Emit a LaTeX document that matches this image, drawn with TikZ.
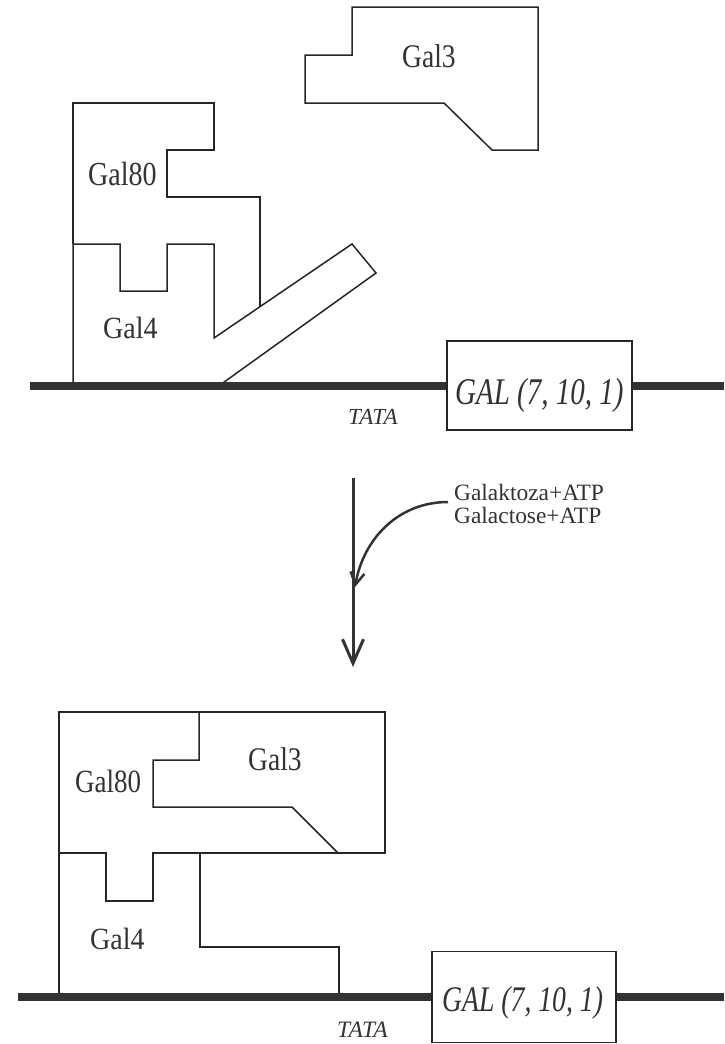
\documentclass[tikz,border=0pt]{standalone}
\usepackage{graphicx}
\usepackage{fontspec}
\setmainfont{Liberation Serif}
\usetikzlibrary{arrows.meta}
\begin{document}
\begin{tikzpicture}[x=1pt,y=-1pt,
  prot/.style={line width=1.5pt, line join=miter, draw=black!85},
  dna/.style={line width=8pt, draw=black!80},
  lbl/.style={inner sep=0pt, anchor=base west, text=black!80},
  genebox/.style={draw=black!85, line width=1.5pt, fill=white, inner sep=0pt},
  mainarrow/.style={line width=3pt, draw=black!80, -{Straight Barb[length=24pt,width=21pt]}},
  bendarrow/.style={line width=2.5pt, draw=black!80, -{Straight Barb[length=12pt,width=14pt]}},
]
\useasboundingbox (0,0) rectangle (724,1044);

% ---------- top: inactive complex ----------
% Gal3 (free)
\draw[prot] (352,7) -- (538,7) -- (538,150) -- (492,150) -- (444,103)
  -- (305,103) -- (305,55) -- (352,55) -- cycle;
% Gal80
\draw[prot] (73,244) -- (73,103) -- (214,103) -- (214,150) -- (167,150)
  -- (167,197) -- (260,197) -- (260,306.7);
% Gal4
\draw[prot] (73,385) -- (73,244) -- (120,244) -- (120,291) -- (167,291)
  -- (167,244) -- (214,244) -- (214,338) -- (352,244) -- (376,273) -- (220,385);

\node[lbl] (gal3a) at (402,67) {\fontsize{27.5}{30}\selectfont\scalebox{1}[1.2]{Gal3}};
\node[lbl] (gal80a) at (88,185) {\fontsize{28}{30}\selectfont\scalebox{1}[1.2]{Gal80}};
\node[lbl] (gal4a) at (103,338) {\fontsize{28}{30}\selectfont\scalebox{1}[1.1]{Gal4}};

% DNA and gene
\node[genebox, minimum width=185pt, minimum height=89pt] (geneA) at (539.5,385.5) {};
\coordinate (dnaAL) at (30,385.5);
\coordinate (dnaAR) at (724,385.5);
\draw[dna] (dnaAL) -- (geneA.west);
\draw[dna] (geneA.east) -- (dnaAR);
\node[lbl] (geneAt) at (455,404) {\fontsize{29}{30}\selectfont\itshape\scalebox{1}[1.3]{GAL (7, 10, 1)}};
\node[lbl] (tataA) at (348,424) {\fontsize{23}{25}\selectfont\itshape TATA};

% ---------- arrow ----------
\coordinate (arrTop) at (353,478);
\coordinate (arrTip) at (353,667);
\draw[mainarrow] (arrTop) -- (arrTip);
\node[lbl, align=left] (sugar) at (454,500) {\fontsize{23.4}{23}\selectfont Galaktoza+ATP};
\node[lbl, align=left] (sugar2) at (454,523) {\fontsize{23.4}{23}\selectfont Galactose+ATP};
\coordinate (bendStart) at (448,502);
\coordinate (bendEnd) at (355,587);
\draw[bendarrow] (bendStart) to[out=180, in=80] (bendEnd);

% ---------- bottom: active complex ----------
\draw[prot] (59,853) -- (59,712) -- (385,712) -- (385,853) -- (153,853)
  -- (153,901) -- (106,901) -- (106,853) -- cycle;
\draw[prot] (199,712) -- (199,760) -- (153,760) -- (153,807) -- (292,807) -- (338,853);
\draw[prot] (59,853) -- (59,997);
\draw[prot] (200,853) -- (200,947) -- (339,947) -- (339,997);

\node[lbl] (gal80b) at (75,792) {\fontsize{27}{30}\selectfont\scalebox{1}[1.2]{Gal80}};
\node[lbl] (gal3b) at (248,770) {\fontsize{27.5}{30}\selectfont\scalebox{1}[1.2]{Gal3}};
\node[lbl] (gal4b) at (90,949) {\fontsize{28}{30}\selectfont\scalebox{1}[1.1]{Gal4}};

\node[genebox, minimum width=184pt, minimum height=91pt] (geneB) at (524,997) {};
\coordinate (dnaBL) at (18,997);
\coordinate (dnaBR) at (724,997);
\draw[dna] (dnaBL) -- (geneB.west);
\draw[dna] (geneB.east) -- (dnaBR);
\node[lbl] (geneBt) at (442,1011) {\fontsize{27.7}{30}\selectfont\itshape\scalebox{1}[1.3]{GAL (7, 10, 1)}};
\node[lbl] (tataB) at (337,1037) {\fontsize{23.5}{25}\selectfont\itshape TATA};
\end{tikzpicture}
\end{document}
